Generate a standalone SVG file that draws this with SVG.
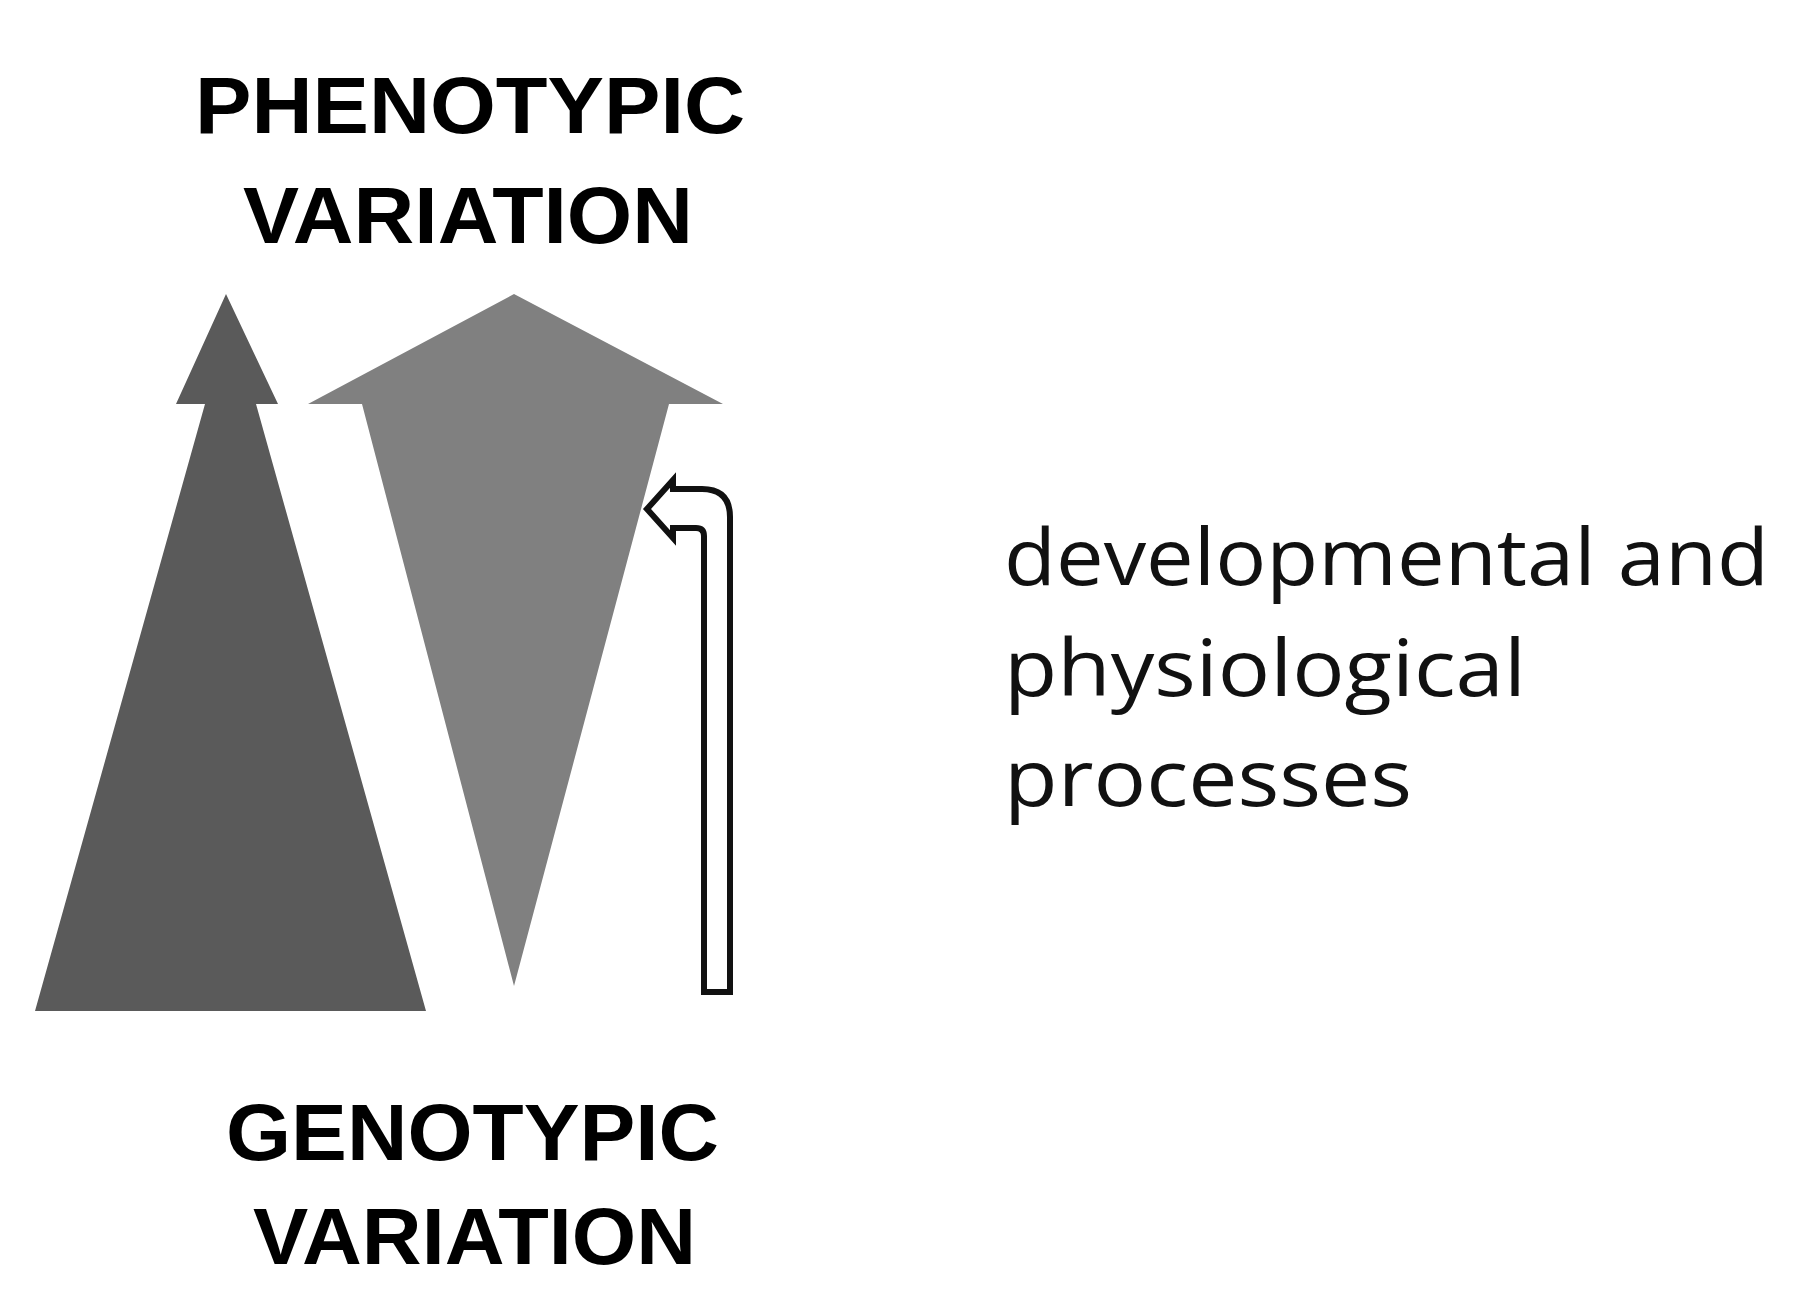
<svg xmlns="http://www.w3.org/2000/svg" width="1809" height="1313" viewBox="0 0 1809 1313">
<style>
.h{font-family:"Liberation Sans",Arial,sans-serif;font-weight:bold;font-size:80px;fill:#000}
.t{font-family:"Open Sans","DejaVu Sans",sans-serif;font-size:78px;fill:#111}
</style>
<rect width="1809" height="1313" fill="#fff"/>
<g id="phenotypic-label">
<text class="h" x="195" y="133" textLength="550" lengthAdjust="spacingAndGlyphs">PHENOTYPIC</text>
<text class="h" x="243" y="243" textLength="450" lengthAdjust="spacingAndGlyphs">VARIATION</text>
</g>
<g id="dark-arrow"><polygon points="226,294 278,404 256,404 426,1011 35,1011 205,404 176,404" fill="#5a5a5a"/></g>
<g id="light-arrow"><polygon points="514,294 723,404 669,404 514,986 362,404 308,404" fill="#808080"/></g>
<g id="connectors">
<path d="M704,992 L704,536 Q704,528 696,528 L673,528 L673,538 L647,509 L673,480 L673,489 L702,489 Q730,489 730,517 L730,992 Z" fill="#fff" stroke="#111" stroke-width="6" stroke-linejoin="miter"/>
</g>
<g id="process-label">
<text class="t" x="1004" y="585" textLength="765" lengthAdjust="spacingAndGlyphs">developmental and</text>
<text class="t" x="1004" y="696" textLength="522" lengthAdjust="spacingAndGlyphs">physiological</text>
<text class="t" x="1004" y="806" textLength="408" lengthAdjust="spacingAndGlyphs">processes</text>
</g>
<g id="genotypic-label">
<text class="h" x="226" y="1160" textLength="493" lengthAdjust="spacingAndGlyphs">GENOTYPIC</text>
<text class="h" x="253" y="1264" textLength="443" lengthAdjust="spacingAndGlyphs">VARIATION</text>
</g>
</svg>
